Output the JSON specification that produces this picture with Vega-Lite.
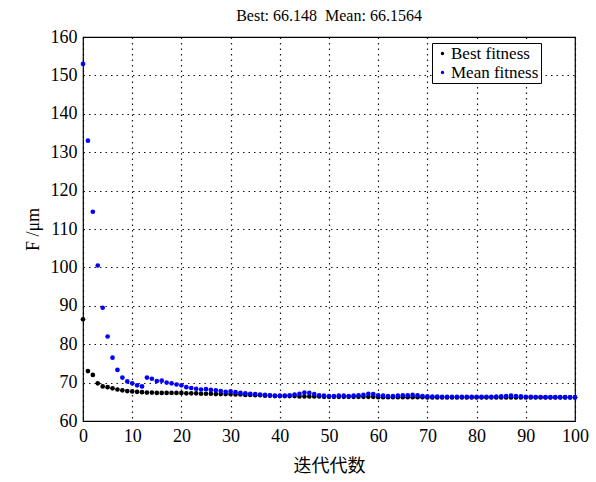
{
  "$schema": "https://vega.github.io/schema/vega-lite/v6.json",
  "autosize": {"type": "none"},
  "padding": {"left": 83, "top": 37, "right": 21, "bottom": 61},
  "width": 492,
  "height": 384,
  "background": "white",
  "config": {
    "font": "Liberation Serif",
    "view": {"stroke": "black", "strokeWidth": 1.2},
    "axis": {
      "labelFont": "Liberation Serif",
      "labelFontSize": 18,
      "labelColor": "black",
      "titleColor": "black",
      "domain": false,
      "ticks": false,
      "gridColor": "black",
      "gridDash": [1.5, 4],
      "gridOpacity": 0.9,
      "gridWidth": 1.2
    }
  },
  "title": {
    "text": "Best: 66.148\u00a0 Mean: 66.1564",
    "font": "Liberation Serif",
    "fontSize": 16,
    "fontWeight": "normal",
    "color": "black",
    "offset": 4
  },
  "data": {
    "values": [
      {"gen": 0, "fitness": 86.5, "series": "Best fitness"},
      {"gen": 1, "fitness": 73.0, "series": "Best fitness"},
      {"gen": 2, "fitness": 72.0, "series": "Best fitness"},
      {"gen": 3, "fitness": 69.8, "series": "Best fitness"},
      {"gen": 4, "fitness": 69.0, "series": "Best fitness"},
      {"gen": 5, "fitness": 68.8, "series": "Best fitness"},
      {"gen": 6, "fitness": 68.5, "series": "Best fitness"},
      {"gen": 7, "fitness": 68.2, "series": "Best fitness"},
      {"gen": 8, "fitness": 68.0, "series": "Best fitness"},
      {"gen": 9, "fitness": 67.8, "series": "Best fitness"},
      {"gen": 10, "fitness": 67.7, "series": "Best fitness"},
      {"gen": 11, "fitness": 67.6, "series": "Best fitness"},
      {"gen": 12, "fitness": 67.5, "series": "Best fitness"},
      {"gen": 13, "fitness": 67.4, "series": "Best fitness"},
      {"gen": 14, "fitness": 67.4, "series": "Best fitness"},
      {"gen": 15, "fitness": 67.3, "series": "Best fitness"},
      {"gen": 16, "fitness": 67.3, "series": "Best fitness"},
      {"gen": 17, "fitness": 67.3, "series": "Best fitness"},
      {"gen": 18, "fitness": 67.3, "series": "Best fitness"},
      {"gen": 19, "fitness": 67.3, "series": "Best fitness"},
      {"gen": 20, "fitness": 67.3, "series": "Best fitness"},
      {"gen": 21, "fitness": 67.2, "series": "Best fitness"},
      {"gen": 22, "fitness": 67.2, "series": "Best fitness"},
      {"gen": 23, "fitness": 67.2, "series": "Best fitness"},
      {"gen": 24, "fitness": 67.1, "series": "Best fitness"},
      {"gen": 25, "fitness": 67.1, "series": "Best fitness"},
      {"gen": 26, "fitness": 67.1, "series": "Best fitness"},
      {"gen": 27, "fitness": 67.0, "series": "Best fitness"},
      {"gen": 28, "fitness": 67.0, "series": "Best fitness"},
      {"gen": 29, "fitness": 67.0, "series": "Best fitness"},
      {"gen": 30, "fitness": 67.0, "series": "Best fitness"},
      {"gen": 31, "fitness": 66.9, "series": "Best fitness"},
      {"gen": 32, "fitness": 66.9, "series": "Best fitness"},
      {"gen": 33, "fitness": 66.8, "series": "Best fitness"},
      {"gen": 34, "fitness": 66.8, "series": "Best fitness"},
      {"gen": 35, "fitness": 66.7, "series": "Best fitness"},
      {"gen": 36, "fitness": 66.7, "series": "Best fitness"},
      {"gen": 37, "fitness": 66.6, "series": "Best fitness"},
      {"gen": 38, "fitness": 66.6, "series": "Best fitness"},
      {"gen": 39, "fitness": 66.5, "series": "Best fitness"},
      {"gen": 40, "fitness": 66.5, "series": "Best fitness"},
      {"gen": 41, "fitness": 66.5, "series": "Best fitness"},
      {"gen": 42, "fitness": 66.5, "series": "Best fitness"},
      {"gen": 43, "fitness": 66.5, "series": "Best fitness"},
      {"gen": 44, "fitness": 66.4, "series": "Best fitness"},
      {"gen": 45, "fitness": 66.4, "series": "Best fitness"},
      {"gen": 46, "fitness": 66.4, "series": "Best fitness"},
      {"gen": 47, "fitness": 66.4, "series": "Best fitness"},
      {"gen": 48, "fitness": 66.4, "series": "Best fitness"},
      {"gen": 49, "fitness": 66.3, "series": "Best fitness"},
      {"gen": 50, "fitness": 66.3, "series": "Best fitness"},
      {"gen": 51, "fitness": 66.3, "series": "Best fitness"},
      {"gen": 52, "fitness": 66.3, "series": "Best fitness"},
      {"gen": 53, "fitness": 66.3, "series": "Best fitness"},
      {"gen": 54, "fitness": 66.3, "series": "Best fitness"},
      {"gen": 55, "fitness": 66.3, "series": "Best fitness"},
      {"gen": 56, "fitness": 66.3, "series": "Best fitness"},
      {"gen": 57, "fitness": 66.3, "series": "Best fitness"},
      {"gen": 58, "fitness": 66.3, "series": "Best fitness"},
      {"gen": 59, "fitness": 66.3, "series": "Best fitness"},
      {"gen": 60, "fitness": 66.2, "series": "Best fitness"},
      {"gen": 61, "fitness": 66.2, "series": "Best fitness"},
      {"gen": 62, "fitness": 66.2, "series": "Best fitness"},
      {"gen": 63, "fitness": 66.2, "series": "Best fitness"},
      {"gen": 64, "fitness": 66.2, "series": "Best fitness"},
      {"gen": 65, "fitness": 66.2, "series": "Best fitness"},
      {"gen": 66, "fitness": 66.2, "series": "Best fitness"},
      {"gen": 67, "fitness": 66.2, "series": "Best fitness"},
      {"gen": 68, "fitness": 66.2, "series": "Best fitness"},
      {"gen": 69, "fitness": 66.2, "series": "Best fitness"},
      {"gen": 70, "fitness": 66.15, "series": "Best fitness"},
      {"gen": 71, "fitness": 66.15, "series": "Best fitness"},
      {"gen": 72, "fitness": 66.15, "series": "Best fitness"},
      {"gen": 73, "fitness": 66.15, "series": "Best fitness"},
      {"gen": 74, "fitness": 66.15, "series": "Best fitness"},
      {"gen": 75, "fitness": 66.15, "series": "Best fitness"},
      {"gen": 76, "fitness": 66.15, "series": "Best fitness"},
      {"gen": 77, "fitness": 66.15, "series": "Best fitness"},
      {"gen": 78, "fitness": 66.15, "series": "Best fitness"},
      {"gen": 79, "fitness": 66.15, "series": "Best fitness"},
      {"gen": 80, "fitness": 66.15, "series": "Best fitness"},
      {"gen": 81, "fitness": 66.15, "series": "Best fitness"},
      {"gen": 82, "fitness": 66.15, "series": "Best fitness"},
      {"gen": 83, "fitness": 66.15, "series": "Best fitness"},
      {"gen": 84, "fitness": 66.15, "series": "Best fitness"},
      {"gen": 85, "fitness": 66.15, "series": "Best fitness"},
      {"gen": 86, "fitness": 66.15, "series": "Best fitness"},
      {"gen": 87, "fitness": 66.15, "series": "Best fitness"},
      {"gen": 88, "fitness": 66.15, "series": "Best fitness"},
      {"gen": 89, "fitness": 66.15, "series": "Best fitness"},
      {"gen": 90, "fitness": 66.15, "series": "Best fitness"},
      {"gen": 91, "fitness": 66.15, "series": "Best fitness"},
      {"gen": 92, "fitness": 66.15, "series": "Best fitness"},
      {"gen": 93, "fitness": 66.15, "series": "Best fitness"},
      {"gen": 94, "fitness": 66.15, "series": "Best fitness"},
      {"gen": 95, "fitness": 66.15, "series": "Best fitness"},
      {"gen": 96, "fitness": 66.15, "series": "Best fitness"},
      {"gen": 97, "fitness": 66.15, "series": "Best fitness"},
      {"gen": 98, "fitness": 66.15, "series": "Best fitness"},
      {"gen": 99, "fitness": 66.15, "series": "Best fitness"},
      {"gen": 100, "fitness": 66.148, "series": "Best fitness"},
      {"gen": 0, "fitness": 153.0, "series": "Mean fitness"},
      {"gen": 1, "fitness": 133.0, "series": "Mean fitness"},
      {"gen": 2, "fitness": 114.5, "series": "Mean fitness"},
      {"gen": 3, "fitness": 100.5, "series": "Mean fitness"},
      {"gen": 4, "fitness": 89.5, "series": "Mean fitness"},
      {"gen": 5, "fitness": 82.0, "series": "Mean fitness"},
      {"gen": 6, "fitness": 76.5, "series": "Mean fitness"},
      {"gen": 7, "fitness": 73.3, "series": "Mean fitness"},
      {"gen": 8, "fitness": 71.3, "series": "Mean fitness"},
      {"gen": 9, "fitness": 70.3, "series": "Mean fitness"},
      {"gen": 10, "fitness": 69.8, "series": "Mean fitness"},
      {"gen": 11, "fitness": 69.3, "series": "Mean fitness"},
      {"gen": 12, "fitness": 69.0, "series": "Mean fitness"},
      {"gen": 13, "fitness": 71.3, "series": "Mean fitness"},
      {"gen": 14, "fitness": 71.0, "series": "Mean fitness"},
      {"gen": 15, "fitness": 70.4, "series": "Mean fitness"},
      {"gen": 16, "fitness": 70.5, "series": "Mean fitness"},
      {"gen": 17, "fitness": 70.0, "series": "Mean fitness"},
      {"gen": 18, "fitness": 69.8, "series": "Mean fitness"},
      {"gen": 19, "fitness": 69.5, "series": "Mean fitness"},
      {"gen": 20, "fitness": 69.3, "series": "Mean fitness"},
      {"gen": 21, "fitness": 68.8, "series": "Mean fitness"},
      {"gen": 22, "fitness": 68.6, "series": "Mean fitness"},
      {"gen": 23, "fitness": 68.4, "series": "Mean fitness"},
      {"gen": 24, "fitness": 68.2, "series": "Mean fitness"},
      {"gen": 25, "fitness": 68.3, "series": "Mean fitness"},
      {"gen": 26, "fitness": 68.1, "series": "Mean fitness"},
      {"gen": 27, "fitness": 68.0, "series": "Mean fitness"},
      {"gen": 28, "fitness": 67.8, "series": "Mean fitness"},
      {"gen": 29, "fitness": 67.6, "series": "Mean fitness"},
      {"gen": 30, "fitness": 67.7, "series": "Mean fitness"},
      {"gen": 31, "fitness": 67.5, "series": "Mean fitness"},
      {"gen": 32, "fitness": 67.3, "series": "Mean fitness"},
      {"gen": 33, "fitness": 67.2, "series": "Mean fitness"},
      {"gen": 34, "fitness": 67.1, "series": "Mean fitness"},
      {"gen": 35, "fitness": 67.0, "series": "Mean fitness"},
      {"gen": 36, "fitness": 66.9, "series": "Mean fitness"},
      {"gen": 37, "fitness": 66.8, "series": "Mean fitness"},
      {"gen": 38, "fitness": 66.7, "series": "Mean fitness"},
      {"gen": 39, "fitness": 66.6, "series": "Mean fitness"},
      {"gen": 40, "fitness": 66.6, "series": "Mean fitness"},
      {"gen": 41, "fitness": 66.6, "series": "Mean fitness"},
      {"gen": 42, "fitness": 66.7, "series": "Mean fitness"},
      {"gen": 43, "fitness": 66.9, "series": "Mean fitness"},
      {"gen": 44, "fitness": 67.1, "series": "Mean fitness"},
      {"gen": 45, "fitness": 67.4, "series": "Mean fitness"},
      {"gen": 46, "fitness": 67.3, "series": "Mean fitness"},
      {"gen": 47, "fitness": 67.0, "series": "Mean fitness"},
      {"gen": 48, "fitness": 66.7, "series": "Mean fitness"},
      {"gen": 49, "fitness": 66.6, "series": "Mean fitness"},
      {"gen": 50, "fitness": 66.5, "series": "Mean fitness"},
      {"gen": 51, "fitness": 66.5, "series": "Mean fitness"},
      {"gen": 52, "fitness": 66.6, "series": "Mean fitness"},
      {"gen": 53, "fitness": 66.6, "series": "Mean fitness"},
      {"gen": 54, "fitness": 66.5, "series": "Mean fitness"},
      {"gen": 55, "fitness": 66.6, "series": "Mean fitness"},
      {"gen": 56, "fitness": 66.7, "series": "Mean fitness"},
      {"gen": 57, "fitness": 66.8, "series": "Mean fitness"},
      {"gen": 58, "fitness": 67.1, "series": "Mean fitness"},
      {"gen": 59, "fitness": 67.0, "series": "Mean fitness"},
      {"gen": 60, "fitness": 66.7, "series": "Mean fitness"},
      {"gen": 61, "fitness": 66.6, "series": "Mean fitness"},
      {"gen": 62, "fitness": 66.5, "series": "Mean fitness"},
      {"gen": 63, "fitness": 66.5, "series": "Mean fitness"},
      {"gen": 64, "fitness": 66.6, "series": "Mean fitness"},
      {"gen": 65, "fitness": 66.7, "series": "Mean fitness"},
      {"gen": 66, "fitness": 66.7, "series": "Mean fitness"},
      {"gen": 67, "fitness": 66.8, "series": "Mean fitness"},
      {"gen": 68, "fitness": 66.7, "series": "Mean fitness"},
      {"gen": 69, "fitness": 66.5, "series": "Mean fitness"},
      {"gen": 70, "fitness": 66.4, "series": "Mean fitness"},
      {"gen": 71, "fitness": 66.35, "series": "Mean fitness"},
      {"gen": 72, "fitness": 66.35, "series": "Mean fitness"},
      {"gen": 73, "fitness": 66.3, "series": "Mean fitness"},
      {"gen": 74, "fitness": 66.3, "series": "Mean fitness"},
      {"gen": 75, "fitness": 66.3, "series": "Mean fitness"},
      {"gen": 76, "fitness": 66.3, "series": "Mean fitness"},
      {"gen": 77, "fitness": 66.3, "series": "Mean fitness"},
      {"gen": 78, "fitness": 66.3, "series": "Mean fitness"},
      {"gen": 79, "fitness": 66.3, "series": "Mean fitness"},
      {"gen": 80, "fitness": 66.3, "series": "Mean fitness"},
      {"gen": 81, "fitness": 66.3, "series": "Mean fitness"},
      {"gen": 82, "fitness": 66.3, "series": "Mean fitness"},
      {"gen": 83, "fitness": 66.3, "series": "Mean fitness"},
      {"gen": 84, "fitness": 66.35, "series": "Mean fitness"},
      {"gen": 85, "fitness": 66.4, "series": "Mean fitness"},
      {"gen": 86, "fitness": 66.5, "series": "Mean fitness"},
      {"gen": 87, "fitness": 66.6, "series": "Mean fitness"},
      {"gen": 88, "fitness": 66.5, "series": "Mean fitness"},
      {"gen": 89, "fitness": 66.4, "series": "Mean fitness"},
      {"gen": 90, "fitness": 66.3, "series": "Mean fitness"},
      {"gen": 91, "fitness": 66.3, "series": "Mean fitness"},
      {"gen": 92, "fitness": 66.25, "series": "Mean fitness"},
      {"gen": 93, "fitness": 66.25, "series": "Mean fitness"},
      {"gen": 94, "fitness": 66.2, "series": "Mean fitness"},
      {"gen": 95, "fitness": 66.2, "series": "Mean fitness"},
      {"gen": 96, "fitness": 66.2, "series": "Mean fitness"},
      {"gen": 97, "fitness": 66.2, "series": "Mean fitness"},
      {"gen": 98, "fitness": 66.2, "series": "Mean fitness"},
      {"gen": 99, "fitness": 66.16, "series": "Mean fitness"},
      {"gen": 100, "fitness": 66.1564, "series": "Mean fitness"}
    ]
  },
  "mark": {"type": "point", "filled": true, "shape": "circle", "size": 22, "opacity": 1},
  "encoding": {
    "x": {
      "field": "gen",
      "type": "quantitative",
      "scale": {"domain": [0, 100], "nice": false},
      "axis": {
        "values": [0, 10, 20, 30, 40, 50, 60, 70, 80, 90, 100],
        "title": "迭代代数",
        "titleFont": "Noto Sans CJK SC",
        "titleFontSize": 18,
        "titleFontWeight": "normal",
        "titlePadding": 12,
        "labelPadding": 6,
        "labelFlush": false
      }
    },
    "y": {
      "field": "fitness",
      "type": "quantitative",
      "scale": {"domain": [60, 160], "nice": false, "zero": false},
      "axis": {
        "values": [60, 70, 80, 90, 100, 110, 120, 130, 140, 150, 160],
        "title": "F /μm",
        "titleFont": "Liberation Serif",
        "titleFontSize": 18,
        "titleFontWeight": "normal",
        "titlePadding": 8,
        "labelPadding": 6
      }
    },
    "color": {
      "field": "series",
      "type": "nominal",
      "scale": {"domain": ["Best fitness", "Mean fitness"], "range": ["#000000", "#0000ff"]},
      "legend": {
        "title": null,
        "orient": "none",
        "legendX": 349,
        "legendY": 6,
        "strokeColor": "black",
        "fillColor": "white",
        "padding": 2,
        "labelFont": "Liberation Serif",
        "labelFontSize": 17,
        "labelColor": "black",
        "labelOffset": 0,
        "symbolSize": 12,
        "symbolType": "circle",
        "rowPadding": 1
      }
    },
    "order": {"field": "series", "type": "nominal"}
  }
}
